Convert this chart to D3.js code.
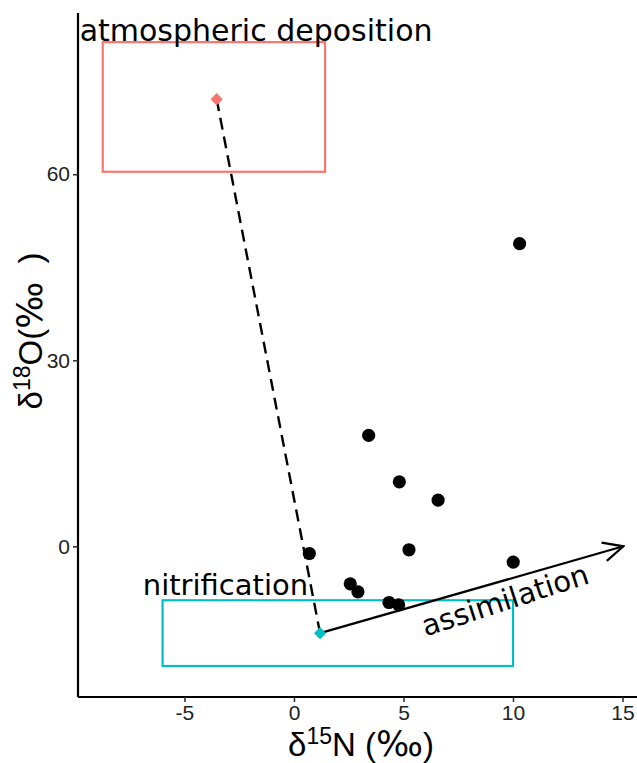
<!DOCTYPE html>
<html>
<head>
<meta charset="utf-8">
<script src="https://cdn.jsdelivr.net/npm/d3@7"></script>
<style>
  body { margin: 0; background: #fff; }
  svg { display: block; }
</style>
</head>
<body>
<div id="chart"></div>
<script>
// nitrate isotopes: samples vs. source boxes

const width = 637;
const height = 763;

// samples
const sampleN = [3.41, 4.81, 6.58, 5.25, 0.70, 2.57, 2.92, 4.34, 4.78, 10.3, 10.01];
const sampleO = [17.9, 10.4, 7.45, -0.56, -1.16, -6.05, -7.34, -9.06, -9.44, 48.8, -2.55];

// sources
const sourceNames = ["atmospheric deposition", "nitrification"];
const sourceN = [-3.53, 1.19];
const sourceO = [72.1, -14.0];
const boxNmin = [-8.73, -6.0];
const boxNmax = [1.42, 10.0];
const boxOmin = [60.4, -19.3];
const boxOmax = [81.3, -8.7];
const labelN = [-1.73, -3.13];
const labelO = [83.2, -6.2];
const sourceColors = ["#F8766D", "#00BFC4"];

// assimilation arrow
const arrowFrom = [1.19, -14.0];
const arrowTo = [15.04, 0];
const arrowLabel = {text: "assimilation", n: 9.63, o: -8.7, angle: -18};

const xTicks = [-5, 0, 5, 10, 15];
const yTicks = [0, 30, 60];

const panel = {left: 78, right: 644, top: 13, bottom: 697};

const x = d3.scaleLinear()
  .domain([-9.86, 15.98])
  .range([panel.left, panel.right]);

const y = d3.scaleLinear()
  .domain([-24.3, 86.0])
  .range([panel.bottom, panel.top]);

const svg = d3.select("#chart")
  .append("svg")
  .attr("width", width)
  .attr("height", height);

svg.append("defs").append("marker")
  .attr("id", "open-arrow")
  .attr("viewBox", "0 0 24 24")
  .attr("refX", 22)
  .attr("refY", 12)
  .attr("markerWidth", 24)
  .attr("markerHeight", 24)
  .attr("markerUnits", "userSpaceOnUse")
  .attr("orient", "auto")
  .append("path")
    .attr("d", "M2,2.5 L22,12 L2,21.5")
    .attr("fill", "none")
    .attr("stroke", "#000")
    .attr("stroke-width", 2.2);

/////////////// source boxes ///////////////
const sources = sourceNames.map((d, i) => ({
  name: d, n: sourceN[i], o: sourceO[i],
  x0: boxNmin[i], x1: boxNmax[i], y0: boxOmin[i], y1: boxOmax[i],
  ln: labelN[i], lo: labelO[i], color: sourceColors[i]
}));

svg.selectAll(".box")
  .data(sources)
  .join("rect")
    .attr("class", "box")
    .attr("x", d => x(d.x0))
    .attr("y", d => y(d.y1))
    .attr("width", d => x(d.x1) - x(d.x0))
    .attr("height", d => y(d.y0) - y(d.y1))
    .attr("fill", "none")
    .attr("stroke", d => d.color)
    .attr("stroke-width", 2.2);

// mixing line between the two sources
svg.append("line")
  .attr("x1", x(sources[0].n))
  .attr("y1", y(sources[0].o))
  .attr("x2", x(sources[1].n))
  .attr("y2", y(sources[1].o))
  .attr("stroke", "#000")
  .attr("stroke-width", 2.4)
  .attr("stroke-dasharray", "12,7");

// assimilation arrow
svg.append("line")
  .attr("x1", x(arrowFrom[0]))
  .attr("y1", y(arrowFrom[1]))
  .attr("x2", x(arrowTo[0]))
  .attr("y2", y(arrowTo[1]))
  .attr("stroke", "#000")
  .attr("stroke-width", 2.2)
  .attr("marker-end", "url(#open-arrow)");

// source means (diamonds)
svg.selectAll(".mean")
  .data(sources)
  .join("path")
    .attr("class", "mean")
    .attr("transform", d => `translate(${x(d.n)},${y(d.o)}) rotate(45)`)
    .attr("d", d3.symbol(d3.symbolSquare, 75))
    .attr("fill", d => d.color);

// samples
svg.selectAll(".sample")
  .data(sampleN.map((n, i) => ({n, o: sampleO[i]})))
  .join("circle")
    .attr("class", "sample")
    .attr("cx", d => x(d.n))
    .attr("cy", d => y(d.o))
    .attr("r", 6.6)
    .attr("fill", "#000");

/////////////// labels ///////////////
svg.selectAll(".src-label")
  .data(sources)
  .join("text")
    .attr("class", "src-label")
    .attr("x", d => x(d.ln))
    .attr("y", d => y(d.lo))
    .attr("text-anchor", "middle")
    .attr("dominant-baseline", "central")
    .attr("font-family", "DejaVu Sans")
    .attr("font-size", (d, i) => i === 0 ? 30 : 29)
    .attr("fill", "#000")
    .text(d => d.name);

svg.append("text")
  .attr("transform", `translate(${x(arrowLabel.n)},${y(arrowLabel.o)}) rotate(${arrowLabel.angle})`)
  .attr("text-anchor", "middle")
  .attr("dominant-baseline", "central")
  .attr("font-family", "DejaVu Sans")
  .attr("font-size", 29)
  .attr("fill", "#000")
  .text(arrowLabel.text);

/////////////// axes ///////////////
const xAxis = svg.append("g")
  .attr("transform", `translate(0,${panel.bottom})`)
  .call(d3.axisBottom(x).tickValues(xTicks).tickSize(5).tickPadding(3).tickFormat(d => String(d)));

const yAxis = svg.append("g")
  .attr("transform", `translate(${panel.left},0)`)
  .call(d3.axisLeft(y).tickValues(yTicks).tickSize(5).tickPadding(3).tickFormat(d => String(d)));

[xAxis, yAxis].forEach(g => {
  g.select(".domain").attr("stroke", "#000").attr("stroke-width", 2.2);
  g.selectAll(".tick line").attr("stroke", "#333").attr("stroke-width", 1.6);
  g.selectAll(".tick text")
    .attr("fill", "#222")
    .attr("font-family", "Liberation Sans, Arial, sans-serif")
    .attr("font-size", 21);
});
xAxis.select(".domain").attr("d", `M${panel.left},0H${panel.right}`);
yAxis.select(".domain").attr("d", `M0,${panel.top}V${panel.bottom}`);

// axis titles
const xTitle = svg.append("text")
  .attr("x", (panel.left + panel.right) / 2)
  .attr("y", 756)
  .attr("text-anchor", "middle")
  .attr("font-family", "Liberation Sans, Arial, sans-serif")
  .attr("font-size", 33)
  .attr("fill", "#000");
xTitle.append("tspan").text("δ");
xTitle.append("tspan").attr("font-size", 23).attr("dy", -12).text("15");
xTitle.append("tspan").attr("dy", 12).text("N (");
xTitle.append("tspan").attr("font-family", "DejaVu Sans").attr("font-size", 35).text("‰");
xTitle.append("tspan").text(")");

const yTitle = svg.append("text")
  .attr("transform", "translate(42,331) rotate(-90)")
  .attr("text-anchor", "middle")
  .attr("font-family", "Liberation Sans, Arial, sans-serif")
  .attr("font-size", 33)
  .attr("fill", "#000");
yTitle.append("tspan").text("δ");
yTitle.append("tspan").attr("font-size", 23).attr("dy", -12).text("18");
yTitle.append("tspan").attr("dy", 12).text("O(");
yTitle.append("tspan").attr("font-family", "DejaVu Sans").attr("font-size", 35).text("‰");
yTitle.append("tspan").text("\u00a0\u00a0)");
</script>
</body>
</html>
